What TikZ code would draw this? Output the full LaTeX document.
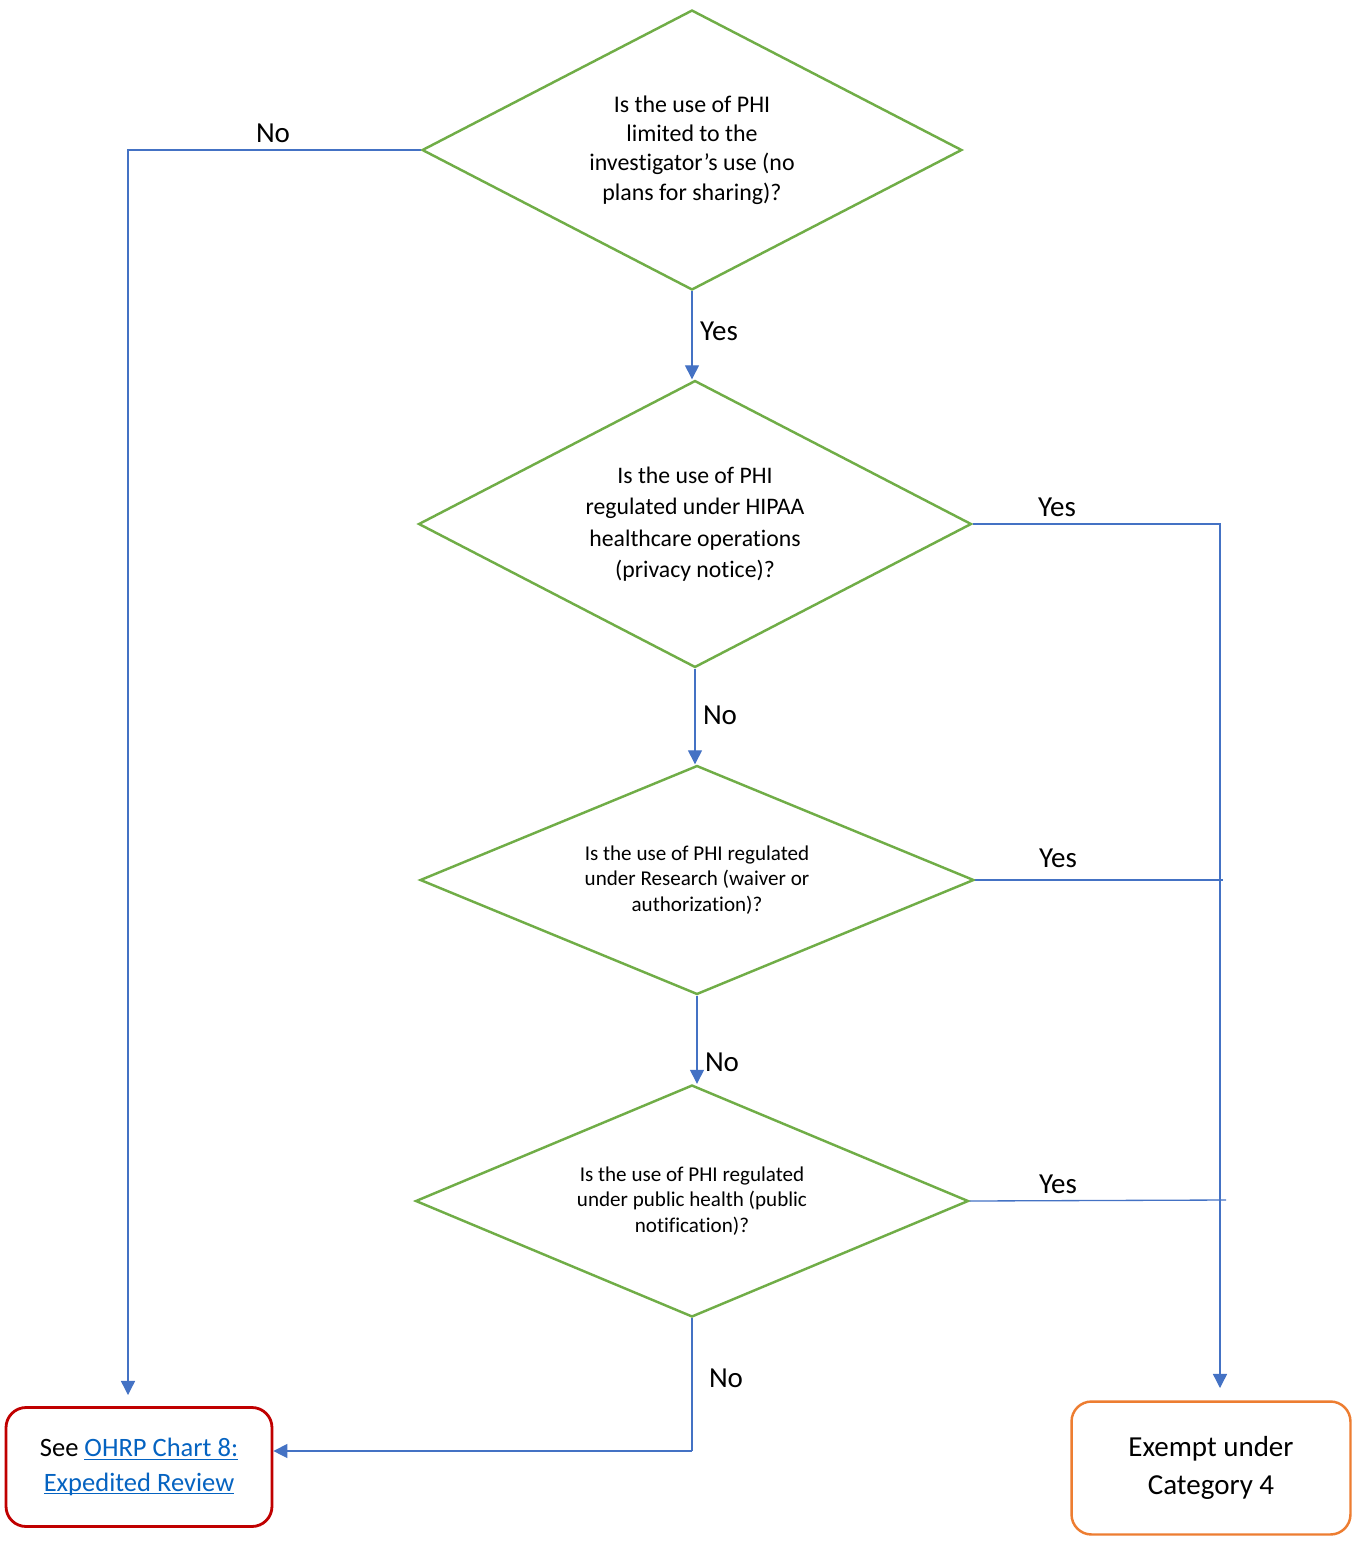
\documentclass[tikz,border=0pt]{standalone}
\usepackage{fontspec}
\setmainfont{Carlito}[Ligatures=NoCommon]
\usetikzlibrary{shapes.geometric,arrows.meta,positioning}
\definecolor{qgreen}{HTML}{70AD47}
\definecolor{flowblue}{HTML}{4472C4}
\definecolor{linkblue}{HTML}{0563C1}
\definecolor{seered}{HTML}{C00000}
\definecolor{exorange}{HTML}{ED7D31}
\newcommand{\ohrplink}[1]{\textcolor{linkblue}{\underline{\smash{#1}}}}

\begin{document}
\begin{tikzpicture}[x=0.02cm,y=-0.02cm]
\tikzstyle{question}=[diamond,aspect=2,draw=qgreen,line width=1.4pt,inner sep=0pt,align=center]
\tikzstyle{outcome}=[rectangle,rounded corners=0.4cm,line width=1.6pt,align=center]
\tikzstyle{flow}=[draw=flowblue,line width=0.75pt]
\tikzstyle{arr}=[flow,-{Triangle[width=8pt,length=8pt]}]
\tikzstyle{answer}=[font=\fontsize{16.5}{20}\selectfont]
\useasboundingbox (0,0) rectangle (1356,1543);
\node[question,minimum width=10.8cm,minimum height=5.6cm,font=\fontsize{13.6}{16.6}\selectfont] (limited) at (692,150)
  {Is the use of PHI\\limited to the\\investigator’s use (no\\plans for sharing)?};
\node[question,minimum width=11.06cm,minimum height=5.74cm,font=\fontsize{13.5}{17.9}\selectfont] (hipaa) at (695,524)
  {Is the use of PHI\\regulated under HIPAA\\healthcare operations\\(privacy notice)?};
\node[question,minimum width=11.08cm,minimum height=4.58cm,font=\fontsize{12}{14.7}\selectfont] (research) at (697,880)
  {Is the use of PHI regulated\\under Research (waiver or\\authorization)?};
\node[question,minimum width=11.06cm,minimum height=4.64cm,font=\fontsize{12}{14.7}\selectfont] (pubhealth) at (692,1201)
  {Is the use of PHI regulated\\under public health (public\\notification)?};
\node[outcome,draw=seered,minimum width=5.32cm,minimum height=2.38cm,font=\fontsize{15.1}{19.8}\selectfont] (see) at (139,1467)
  {See \ohrplink{OHRP Chart 8:}\\\ohrplink{Expedited Review}};
\node[outcome,draw=exorange,line width=1.4pt,minimum width=5.58cm,minimum height=2.66cm,font=\fontsize{16.5}{22}\selectfont] (exempt) at (1211,1468)
  {Exempt under\\Category 4};
\coordinate (noend) at (128,1395);
\coordinate (yesend) at (1220,1388);
\coordinate (yesjoin3) at (1223,880);
\coordinate (yesjoin4) at (1226,1200);
\coordinate (nocorner) at (pubhealth.south |- 0,1451);
\draw[arr] (limited.west) -| (noend);
\draw[arr] (limited.south) -- (limited.south |- hipaa.north);
\draw[arr] (hipaa.east) -| (yesend);
\draw[arr] (hipaa.south) -- (hipaa.south |- research.north);
\draw[flow] (research.east) -- (yesjoin3);
\draw[arr] (research.south) -- (research.south |- pubhealth.north);
\draw[flow] (pubhealth.east) -- (yesjoin4);
\draw[flow] (pubhealth.south) -- (nocorner);
\draw[arr] (nocorner) -- (nocorner -| see.east);
\node[answer] (no1) at (273,133) {No};
\node[answer] (yes1) at (719,331) {Yes};
\node[answer] (yes2) at (1057,507) {Yes};
\node[answer] (no2) at (720,715) {No};
\node[answer] (yes3) at (1058,858) {Yes};
\node[answer] (no3) at (722,1062) {No};
\node[answer] (yes4) at (1058,1184) {Yes};
\node[answer] (no4) at (726,1378) {No};
\end{tikzpicture}
\end{document}
